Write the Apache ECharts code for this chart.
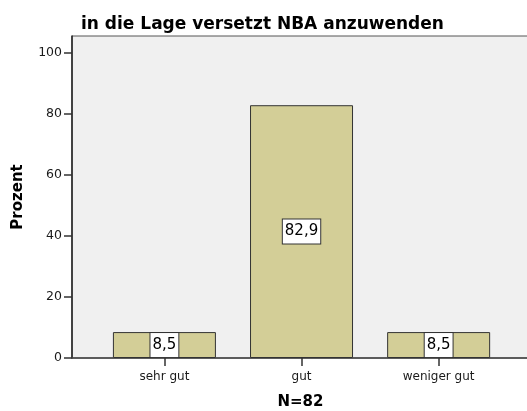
<!DOCTYPE html>
<html>
<head>
<meta charset="utf-8">
<script src="https://cdn.jsdelivr.net/npm/echarts@6/dist/echarts.min.js"></script>
<style>
  html, body { margin: 0; padding: 0; background: #fff; }
  #chart { width: 527px; height: 411px; }
</style>
</head>
<body>
<div id="chart"></div>
<script>
// Daten aus der Vorlage
var categories = ['sehr gut', 'gut', 'weniger gut'];
var percents = [8.5, 82.9, 8.5];
var yTicks = [0, 20, 40, 60, 80, 100];
var titleText = 'in die Lage versetzt NBA anzuwenden';
var sampleLabel = 'N=82';

var FONT = '"DejaVu Sans", sans-serif';

function initBarChart(containerId) {
    var chart = echarts.init(document.getElementById(containerId));

    var barData = percents.map(function(v, i) { return [i, v]; });
    var catIdx = categories.map(function(c, i) { return i; });

    var option = {
        animation: false,
        title: {
            text: titleText,
            left: 76,
            top: 11,
            textStyle: {
                fontFamily: FONT,
                fontSize: 17,
                fontWeight: 'bold',
                color: '#000'
            }
        },
        grid: {
            left: 72,
            right: -2,
            top: 36,
            bottom: 53,
            outerBoundsMode: 'none',
            containLabel: false,
            show: true,
            backgroundColor: '#f0f0f0',
            borderColor: '#555',
            borderWidth: 1
        },
        xAxis: {
            type: 'value',
            min: -0.674,
            max: 2.659,
            name: sampleLabel,
            nameLocation: 'middle',
            nameGap: 37,
            nameTextStyle: {
                fontFamily: FONT,
                fontSize: 15,
                fontWeight: 'bold',
                color: '#000'
            },
            splitLine: { show: false },
            axisLine: {
                show: true,
                onZero: false,
                lineStyle: { color: '#444', width: 1.5 }
            },
            axisTick: {
                show: true,
                length: 8,
                customValues: catIdx,
                lineStyle: { color: '#333', width: 1.5 }
            },
            axisLabel: {
                customValues: catIdx,
                margin: 13,
                fontFamily: FONT,
                fontSize: 12,
                color: '#1a1a1a',
                formatter: function(v) { return categories[Math.round(v)]; }
            }
        },
        yAxis: {
            type: 'value',
            min: 0,
            max: 105.6,
            name: 'Prozent',
            nameLocation: 'middle',
            nameGap: 46,
            nameTextStyle: {
                fontFamily: FONT,
                fontSize: 15,
                fontWeight: 'bold',
                color: '#000'
            },
            splitLine: { show: false },
            axisLine: {
                show: true,
                onZero: false,
                lineStyle: { color: '#222', width: 1.5 }
            },
            axisTick: {
                show: true,
                length: 8,
                customValues: yTicks,
                lineStyle: { color: '#333', width: 1.5 }
            },
            axisLabel: {
                customValues: yTicks,
                margin: 10,
                fontFamily: FONT,
                fontSize: 12.5,
                color: '#1a1a1a'
            }
        },
        series: [{
            type: 'bar',
            data: barData,
            barWidth: 103,
            itemStyle: {
                color: '#d3ce97',
                borderColor: '#333',
                borderWidth: 1
            },
            label: {
                show: true,
                position: 'inside',
                formatter: function(p) {
                    return String(p.value[1]).replace('.', ',');
                },
                fontFamily: FONT,
                fontSize: 15,
                color: '#000',
                backgroundColor: '#fff',
                borderColor: '#333',
                borderWidth: 1,
                padding: [5, 2, 4, 2]
            }
        }]
    };

    chart.setOption(option);
    return chart;
}

initBarChart('chart');
</script>
</body>
</html>
